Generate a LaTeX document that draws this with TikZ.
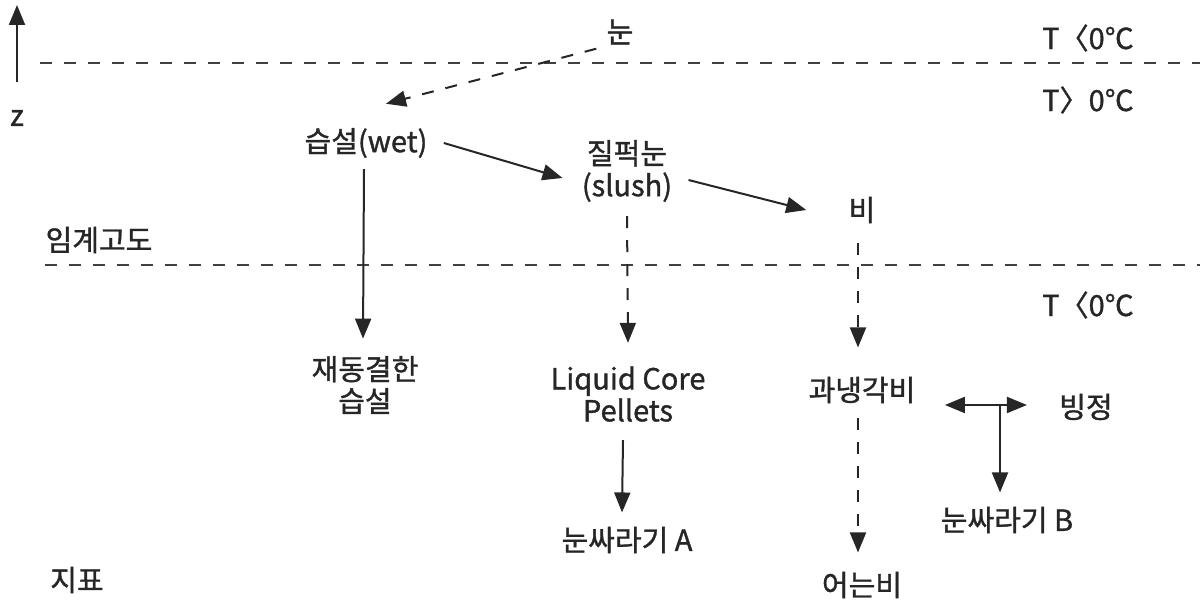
\documentclass[tikz,border=0pt]{standalone}
\usepackage{fontspec}
\setmainfont{Noto Sans CJK KR}[FakeBold=1.2]
\usetikzlibrary{arrows.meta}
\tikzset{
  lbl/.style={inner sep=2pt, font=\fontsize{14.5pt}{16pt}\selectfont, align=center, text=black!85},
  tip/.style={Triangle[length=10pt,width=8pt]},
  arr/.style={line width=1pt, draw=black!85, -{Triangle[length=10pt,width=8pt]}},
  darr/.style={arr, dash pattern=on 6pt off 6pt},
  dbl/.style={line width=1pt, draw=black!85, {Triangle[length=10pt,width=8pt]}-{Triangle[length=10pt,width=8pt]}},
  level/.style={line width=1.1pt, draw=black!75, dash pattern=on 6pt off 6pt},
}
\begin{document}
\begin{tikzpicture}[x=0.5pt,y=-0.5pt]
\useasboundingbox (0,0) rectangle (1200,608);
% levels
\draw[level] (40,63) -- (1200,63);
\draw[level] (45,265) -- (1200,265);
% labels
\node[lbl] (z) at (17,118) {z};
\coordinate (ztop) at (17,5);
\node[lbl] (t1) at (1088,38) {T〈0℃};
\node[lbl] (t2) at (1088,100) {T〉0℃};
\node[lbl] (t3) at (1088,305) {T〈0℃};
\node[lbl] (crit) at (99,240) {임계고도};
\node[lbl] (ground) at (77,580) {지표};
% nodes
\node[lbl] (snow) at (620,32) {눈};
\node[lbl] (wet) at (366,143) {습설(wet)};
\node[lbl] (slush) at (627,171) {질퍽눈\\(slush)};
\node[lbl] (rain) at (862,210) {비};
\node[lbl] (refrozen) at (365,385) {재동결한\\습설};
\node[lbl] (lcp) at (628,394) {Liquid Core\\Pellets};
\node[lbl] (super) at (862,390) {과냉각비};
\node[lbl] (ice) at (1086,407) {빙정};
\node[lbl] (gA) at (627,540) {눈싸라기 A};
\node[lbl] (gB) at (1007,520) {눈싸라기 B};
\node[lbl] (fzr) at (862,585) {어는비};
\coordinate (jn) at (1000,405);
% arrows
\draw[arr] ([shift={(0,-24)}]z.north) -- (ztop);
\draw[darr] ([shift={(-6,0)}]snow.south west) -- ([shift={(20,-20)}]wet.north);
\draw[arr] ([shift={(12,0)}]wet.east) -- ([shift={(-15,7)}]slush.west);
\draw[arr] ([shift={(12,9)}]slush.east) -- ([shift={(-38,0)}]rain.west);
\draw[arr] ([shift={(-2,7)}]wet.south) -- ([shift={(-2,-13)}]refrozen.north);
\draw[darr] ([shift={(0,10)}]slush.south) -- ([shift={(0,-19)}]lcp.north);
\draw[darr] ([shift={(-4,15)}]rain.south) -- ([shift={(-4,-25)}]super.north);
\draw[darr] ([shift={(-4,10)}]super.south) -- ([shift={(-4,-15)}]fzr.north);
\draw[arr] ([shift={(-5,14)}]lcp.south) -- ([shift={(-5,-10)}]gA.north);
\draw[dbl] ([shift={(-110,-2)}]ice.west) -- ([shift={(-28,-2)}]ice.west);
\draw[arr] (jn) -- ([shift={(-7,-10)}]gB.north);
\end{tikzpicture}
\end{document}
